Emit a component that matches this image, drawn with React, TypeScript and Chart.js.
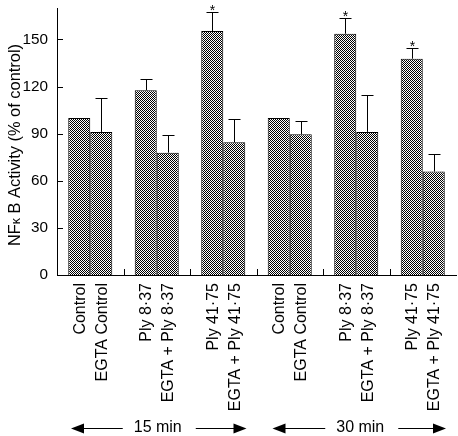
import React, { useEffect, useRef } from "react";
import { Chart, registerables } from "chart.js";

Chart.register(...registerables);

// ---- data ----
const groupKeys = ["15-ctl", "15-837", "15-4175", "30-ctl", "30-837", "30-4175"];
const firstLabels = ["Control", "Ply 8·37", "Ply 41·75", "Control", "Ply 8·37", "Ply 41·75"];
const secondLabels = [
  "EGTA Control",
  "EGTA + Ply 8·37",
  "EGTA + Ply 41·75",
  "EGTA Control",
  "EGTA + Ply 8·37",
  "EGTA + Ply 41·75",
];
const firstValues = [100, 117.6, 155.3, 100, 153.6, 137.7];
const firstErrors = [0, 7.3, 12.3, 0, 9.8, 6.8];
const firstStars = [false, false, true, false, true, true];
const secondValues = [91.1, 77.9, 84.5, 89.6, 91.1, 65.9];
const secondErrors = [21.4, 11, 14.9, 8.7, 23.4, 10.9];
const secondStars = [false, false, false, false, false, false];
const timeLabels = ["15 min", "30 min"];
const yTickValues = [0, 30, 60, 90, 120, 150];
const yMax = 170;

const FONT = "'Liberation Sans', Arial, Helvetica, sans-serif";

// font size that makes `text` about `target` px wide
function fitSize(text: string, target: number): number {
  const c = document.createElement("canvas");
  const g = c.getContext("2d");
  if (!g) return 16;
  g.font = `16px ${FONT}`;
  const w = g.measureText(text).width;
  if (!w) return 16;
  return Math.round((16 * target) / w * 10) / 10;
}

function makePattern(): CanvasPattern | string {
  const c = document.createElement("canvas");
  c.width = 2;
  c.height = 2;
  const g = c.getContext("2d");
  if (!g) return "#777";
  g.fillStyle = "#ffffff";
  g.fillRect(0, 0, 2, 2);
  g.fillStyle = "#000000";
  g.fillRect(0, 0, 1, 1);
  g.fillRect(1, 1, 1, 1);
  const p = g.createPattern(c, "repeat");
  return p || "#777";
}

function makePlugin(sizes: { label: number; title: number; time: number }) {
  return {
    id: "decor",
    afterDatasetsDraw(chart: any) {
      const ctx = chart.ctx as CanvasRenderingContext2D;
      const y = chart.scales.y;
      const x = chart.scales.x;
      const area = chart.chartArea;
      ctx.save();
      ctx.strokeStyle = "#000";
      ctx.fillStyle = "#000";
      ctx.lineWidth = 1;

      const errs = [firstErrors, secondErrors];
      const vals = [firstValues, secondValues];
      const stars = [firstStars, secondStars];
      [0, 1].forEach((di) => {
        const meta = chart.getDatasetMeta(di);
        meta.data.forEach((bar: any, i: number) => {
          const e = errs[di][i];
          const top = y.getPixelForValue(vals[di][i] + e);
          const cx = Math.round(bar.x) + 0.5;
          if (e > 0) {
            const base = y.getPixelForValue(vals[di][i]);
            ctx.beginPath();
            ctx.moveTo(cx, base);
            ctx.lineTo(cx, Math.round(top) + 0.5);
            ctx.moveTo(cx - 6, Math.round(top) + 0.5);
            ctx.lineTo(cx + 6, Math.round(top) + 0.5);
            ctx.stroke();
          }
          if (stars[di][i]) {
            ctx.font = `14px ${FONT}`;
            ctx.textAlign = "center";
            ctx.textBaseline = "alphabetic";
            ctx.fillText("*", cx, top + 3);
          }
        });
      });

      yTickValues.forEach((v) => {
        if (v === 0) return;
        const py = Math.round(y.getPixelForValue(v)) + 0.5;
        ctx.beginPath();
        ctx.moveTo(area.left, py);
        ctx.lineTo(area.left + 6, py);
        ctx.stroke();
      });
      const half = (x.getPixelForValue(1) - x.getPixelForValue(0)) / 2;
      for (let i = 0; i < groupKeys.length - 1; i++) {
        const px = Math.round(x.getPixelForValue(i) + half) + 0.5;
        ctx.beginPath();
        ctx.moveTo(px, area.bottom);
        ctx.lineTo(px, area.bottom - 6);
        ctx.stroke();
      }
      ctx.restore();
    },
    afterDraw(chart: any) {
      const ctx = chart.ctx as CanvasRenderingContext2D;
      const area = chart.chartArea;
      const x = chart.scales.x;
      ctx.save();
      ctx.fillStyle = "#000";
      ctx.strokeStyle = "#000";
      ctx.font = `${sizes.label}px ${FONT}`;

      const lbls = [firstLabels, secondLabels];
      [0, 1].forEach((di) => {
        const meta = chart.getDatasetMeta(di);
        meta.data.forEach((bar: any, i: number) => {
          ctx.save();
          ctx.translate(bar.x, area.bottom + 8);
          ctx.rotate(-Math.PI / 2);
          ctx.textAlign = "right";
          ctx.textBaseline = "middle";
          ctx.fillText(lbls[di][i], 0, 1);
          ctx.restore();
        });
      });

      const ts = sizes.title;
      const parts = [
        { t: "NF", s: ts, dy: 0 },
        { t: "κ", s: ts * 0.75, dy: 2 },
        { t: " B Activity (% of control)", s: ts, dy: 0 },
      ];
      let total = 0;
      parts.forEach((p) => {
        ctx.font = `${p.s}px ${FONT}`;
        total += ctx.measureText(p.t).width;
      });
      ctx.save();
      ctx.translate(15, 145);
      ctx.rotate(-Math.PI / 2);
      ctx.textAlign = "left";
      ctx.textBaseline = "middle";
      let cur = -total / 2;
      parts.forEach((p) => {
        ctx.font = `${p.s}px ${FONT}`;
        ctx.fillText(p.t, cur, p.dy);
        cur += ctx.measureText(p.t).width;
      });
      ctx.restore();

      const half = (x.getPixelForValue(1) - x.getPixelForValue(0)) / 2;
      const ay = 428.5;
      const spans = [
        [x.getPixelForValue(0) - half, x.getPixelForValue(2) + half],
        [x.getPixelForValue(3) - half, x.getPixelForValue(5) + half],
      ];
      ctx.font = `${sizes.time}px ${FONT}`;
      ctx.lineWidth = 1.2;
      spans.forEach(([l, r], k) => {
        const left = l + 14 + (k === 1 ? 2 : 0);
        const right = r - 10;
        const cx = (l + r) / 2 + (k === 1 ? 4 : 1);
        const tw = ctx.measureText(timeLabels[k]).width;
        const gapL = cx - tw / 2 - 11;
        const gapR = cx + tw / 2 + 14;
        ctx.textAlign = "center";
        ctx.textBaseline = "middle";
        ctx.fillText(timeLabels[k], cx, ay - 1);
        ctx.beginPath();
        ctx.moveTo(left + 10, ay);
        ctx.lineTo(gapL, ay);
        ctx.moveTo(gapR, ay);
        ctx.lineTo(right - 10, ay);
        ctx.stroke();
        ctx.beginPath();
        ctx.moveTo(left, ay);
        ctx.lineTo(left + 13, ay - 5);
        ctx.lineTo(left + 13, ay + 5);
        ctx.closePath();
        ctx.fill();
        ctx.beginPath();
        ctx.moveTo(right, ay);
        ctx.lineTo(right - 13, ay - 5);
        ctx.lineTo(right - 13, ay + 5);
        ctx.closePath();
        ctx.fill();
      });
      ctx.restore();
    },
  };
}

export default function App() {
  const ref = useRef<HTMLCanvasElement | null>(null);
  useEffect(() => {
    if (!ref.current) return;
    const pattern = makePattern();
    const sizes = {
      label: fitSize("EGTA + Ply 41·75", 128),
      title: fitSize("NF B Activity (% of control)", 196),
      time: fitSize("15 min", 48),
    };
    const tickSize = fitSize("150", 25.5);
    const chart = new Chart(ref.current, {
      type: "bar",
      data: {
        labels: groupKeys,
        datasets: [
          {
            data: firstValues,
            backgroundColor: pattern as any,
            borderColor: "#000",
            borderWidth: 1,
            categoryPercentage: 0.662,
            barPercentage: 1,
          },
          {
            data: secondValues,
            backgroundColor: pattern as any,
            borderColor: "#000",
            borderWidth: 1,
            categoryPercentage: 0.662,
            barPercentage: 1,
          },
        ],
      },
      options: {
        responsive: false,
        animation: false,
        events: [],
        layout: { padding: { top: 8, right: 2, left: 0, bottom: 0 } },
        plugins: {
          legend: { display: false },
          tooltip: { enabled: false },
          title: { display: false },
        },
        scales: {
          x: {
            type: "category",
            offset: true,
            grid: { display: false },
            border: { display: true, color: "#000", width: 1 },
            ticks: { display: false },
            afterFit: (s: any) => {
              s.height = 161;
              s.paddingLeft = 0;
              s.paddingRight = 0;
            },
          },
          y: {
            type: "linear",
            min: 0,
            max: yMax,
            grid: { display: false, drawTicks: false },
            border: { display: true, color: "#000", width: 1 },
            ticks: {
              stepSize: 30,
              includeBounds: false,
              padding: 9,
              color: "#000",
              font: { size: tickSize, family: FONT },
            },
            afterBuildTicks: (s: any) => {
              s.ticks = yTickValues.map((v) => ({ value: v }));
            },
            afterFit: (s: any) => {
              s.width = 57;
              s.paddingTop = 0;
              s.paddingBottom = 0;
            },
          },
        },
      },
      plugins: [makePlugin(sizes)],
    } as any);
    return () => chart.destroy();
  }, []);
  return (
    <div style={{ position: "fixed", left: 0, top: 0, width: 458, height: 436, background: "#fff" }}>
      <canvas ref={ref} width={458} height={436} style={{ width: 458, height: 436, display: "block" }} />
    </div>
  );
}
